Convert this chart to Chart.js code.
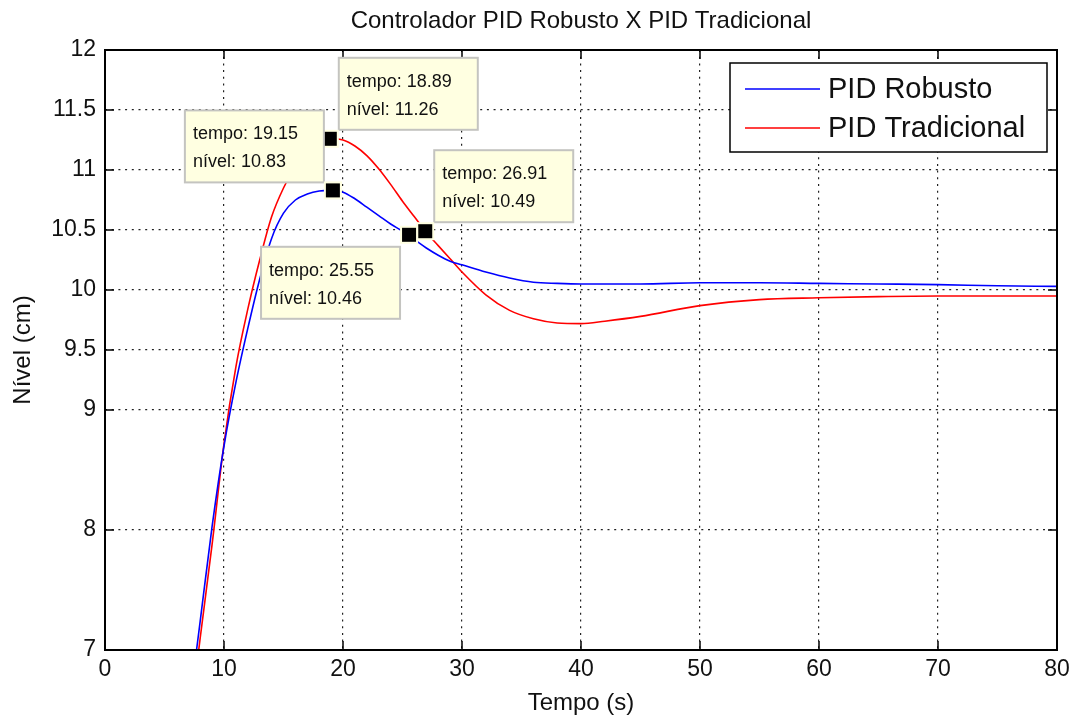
<!DOCTYPE html>
<html>
<head>
<meta charset="utf-8">
<script src="https://cdn.jsdelivr.net/npm/chart.js@4"></script>
<style>
  html, body { margin: 0; padding: 0; background: #fff; }
  #wrap { width: 1073px; height: 718px; }
</style>
</head>
<body>
<div id="wrap"><canvas id="grafico"></canvas></div>
<script>
// dados
var tempo = [7.5, 8, 9, 10, 11, 12, 13, 14, 15, 16, 17, 18, 19, 20, 21, 22, 23, 24, 25, 26,
             27, 28, 29, 30, 32, 34, 36, 38, 40, 42, 45, 50, 55, 60, 65, 70, 75, 80];
var nivelRobusto = [6.85, 7.24, 8.03, 8.70, 9.23, 9.68, 10.09, 10.43, 10.64, 10.75, 10.80, 10.825, 10.83, 10.815, 10.76, 10.69, 10.62, 10.55, 10.49, 10.42,
                    10.35, 10.29, 10.24, 10.21, 10.15, 10.10, 10.065, 10.055, 10.05, 10.05, 10.05, 10.06, 10.06, 10.055, 10.05, 10.045, 10.035, 10.03];
var nivelTradicional = [6.7, 7.1, 7.88, 8.72, 9.36, 9.84, 10.25, 10.61, 10.85, 11.03, 11.15, 11.23, 11.26, 11.25, 11.20, 11.12, 11.01, 10.88, 10.74, 10.61,
                        10.48, 10.37, 10.26, 10.15, 9.96, 9.83, 9.76, 9.725, 9.72, 9.74, 9.78, 9.87, 9.92, 9.935, 9.945, 9.95, 9.95, 9.95];
var ticksNivel = [7, 8, 9, 9.5, 10, 10.5, 11, 11.5, 12];

// data tips
var dicaTempo = [18.89, 19.15, 26.91, 25.55];
var dicaNivel = [11.26, 10.83, 10.49, 10.46];
var dicaLado = ['dir', 'esq', 'dir', 'esqBaixo'];

var fonte = "'Liberation Sans', Arial, sans-serif";

function pontos(ys) {
    return tempo.map(function (t, i) { return { x: t, y: ys[i] }; });
}

var estiloMatlab = {
    id: 'estiloMatlab',
    afterDatasetsDraw: function (chart) {
        var ctx = chart.ctx, a = chart.chartArea;
        var sx = chart.scales.x, sy = chart.scales.y;
        ctx.save();

        // caixa dos eixos e marcas internas
        ctx.strokeStyle = '#000';
        ctx.lineWidth = 1.5;
        ctx.beginPath();
        sx.ticks.forEach(function (tk) {
            var px = sx.getPixelForValue(tk.value);
            ctx.moveTo(px, a.bottom); ctx.lineTo(px, a.bottom - 9);
            ctx.moveTo(px, a.top); ctx.lineTo(px, a.top + 9);
        });
        sy.ticks.forEach(function (tk) {
            var py = sy.getPixelForValue(tk.value);
            ctx.moveTo(a.left, py); ctx.lineTo(a.left + 9, py);
            ctx.moveTo(a.right, py); ctx.lineTo(a.right - 9, py);
        });
        ctx.stroke();
        ctx.lineWidth = 2;
        ctx.strokeRect(a.left, a.top, a.right - a.left, a.bottom - a.top);

        // data tips
        for (var i = 0; i < dicaTempo.length; i++) {
            var mx = sx.getPixelForValue(dicaTempo[i]);
            var my = sy.getPixelForValue(dicaNivel[i]);
            var w = 139, h = 72, bx, by;
            if (dicaLado[i] === 'dir') { bx = mx + 9; by = my - 81; }
            else if (dicaLado[i] === 'esq') { bx = mx - 148; by = my - 80; }
            else { bx = mx - 148; by = my + 12; }
            ctx.fillStyle = '#ffffe1';
            ctx.fillRect(bx, by, w, h);
            ctx.strokeStyle = '#c4c4c0';
            ctx.lineWidth = 2;
            ctx.strokeRect(bx, by, w, h);
            ctx.fillStyle = '#111';
            ctx.font = '18px ' + fonte;
            ctx.textAlign = 'left';
            ctx.textBaseline = 'alphabetic';
            ctx.fillText('tempo: ' + dicaTempo[i].toFixed(2), bx + 8, by + 29);
            ctx.fillText('nível: ' + dicaNivel[i].toFixed(2), bx + 8, by + 57);
            // marcador
            ctx.fillStyle = '#ffffe1';
            ctx.fillRect(mx - 9, my - 9, 18, 18);
            ctx.fillStyle = '#000';
            ctx.fillRect(mx - 7, my - 7, 14, 14);
        }

        // legenda
        var lx = a.right - 327, ly = a.top + 13, lw = 317, lh = 89;
        ctx.fillStyle = '#fff';
        ctx.fillRect(lx, ly, lw, lh);
        ctx.strokeStyle = '#000';
        ctx.lineWidth = 1.5;
        ctx.strokeRect(lx, ly, lw, lh);
        ctx.font = '29px ' + fonte;
        ctx.textBaseline = 'middle';
        chart.data.datasets.forEach(function (ds, k) {
            var yy = ly + 26 + k * 39;
            ctx.strokeStyle = ds.borderColor;
            ctx.lineWidth = 1.5;
            ctx.beginPath();
            ctx.moveTo(lx + 15, yy); ctx.lineTo(lx + 90, yy);
            ctx.stroke();
            ctx.fillStyle = '#111';
            ctx.fillText(ds.label, lx + 98, yy + 1);
        });

        // título
        ctx.font = '24px ' + fonte;
        ctx.textAlign = 'center';
        ctx.textBaseline = 'middle';
        ctx.fillStyle = '#111';
        ctx.fillText('Controlador PID Robusto X PID Tradicional', (a.left + a.right) / 2, 21);
        ctx.restore();
    }
};

new Chart(document.getElementById('grafico'), {
    type: 'line',
    data: {
        datasets: [
            {
                label: 'PID Robusto',
                data: pontos(nivelRobusto),
                borderColor: '#0000ff',
                borderWidth: 1.6,
                pointRadius: 0,
                cubicInterpolationMode: 'monotone'
            },
            {
                label: 'PID Tradicional',
                data: pontos(nivelTradicional),
                borderColor: '#ff0000',
                borderWidth: 1.6,
                pointRadius: 0,
                cubicInterpolationMode: 'monotone'
            }
        ]
    },
    options: {
        responsive: true,
        maintainAspectRatio: false,
        animation: false,
        layout: { padding: { top: 50, right: 16, left: 0, bottom: 0 } },
        plugins: {
            legend: { display: false },
            title: { display: false },
            tooltip: { enabled: false }
        },
        scales: {
            x: {
                type: 'linear',
                min: 0,
                max: 80,
                ticks: {
                    stepSize: 10,
                    color: '#111',
                    padding: 6,
                    maxRotation: 0,
                    font: { family: fonte, size: 23 }
                },
                grid: { color: '#222', drawTicks: false, lineWidth: 1.2 },
                border: { display: false, dash: [2, 4.7] },
                title: {
                    display: true,
                    text: 'Tempo (s)',
                    color: '#111',
                    padding: { top: 0, bottom: 0 },
                    font: { family: fonte, size: 24 }
                },
                afterFit: function (s) {
                    s.height = 68;
                    s.paddingRight = 0;
                    s.paddingLeft = 0;
                }
            },
            y: {
                type: 'linear',
                min: 7,
                max: 12,
                afterBuildTicks: function (s) {
                    s.ticks = ticksNivel.map(function (v) { return { value: v }; });
                },
                ticks: {
                    color: '#111',
                    padding: 9,
                    font: { family: fonte, size: 23 }
                },
                grid: { color: '#222', drawTicks: false, lineWidth: 1.2 },
                border: { display: false, dash: [2, 4.7] },
                title: {
                    display: true,
                    text: 'Nível (cm)',
                    color: '#111',
                    padding: { top: 9, bottom: 4 },
                    font: { family: fonte, size: 24 }
                },
                afterFit: function (s) {
                    s.width = 105;
                    s.paddingTop = 0;
                    s.paddingBottom = 0;
                }
            }
        }
    },
    plugins: [estiloMatlab]
});
</script>
</body>
</html>
